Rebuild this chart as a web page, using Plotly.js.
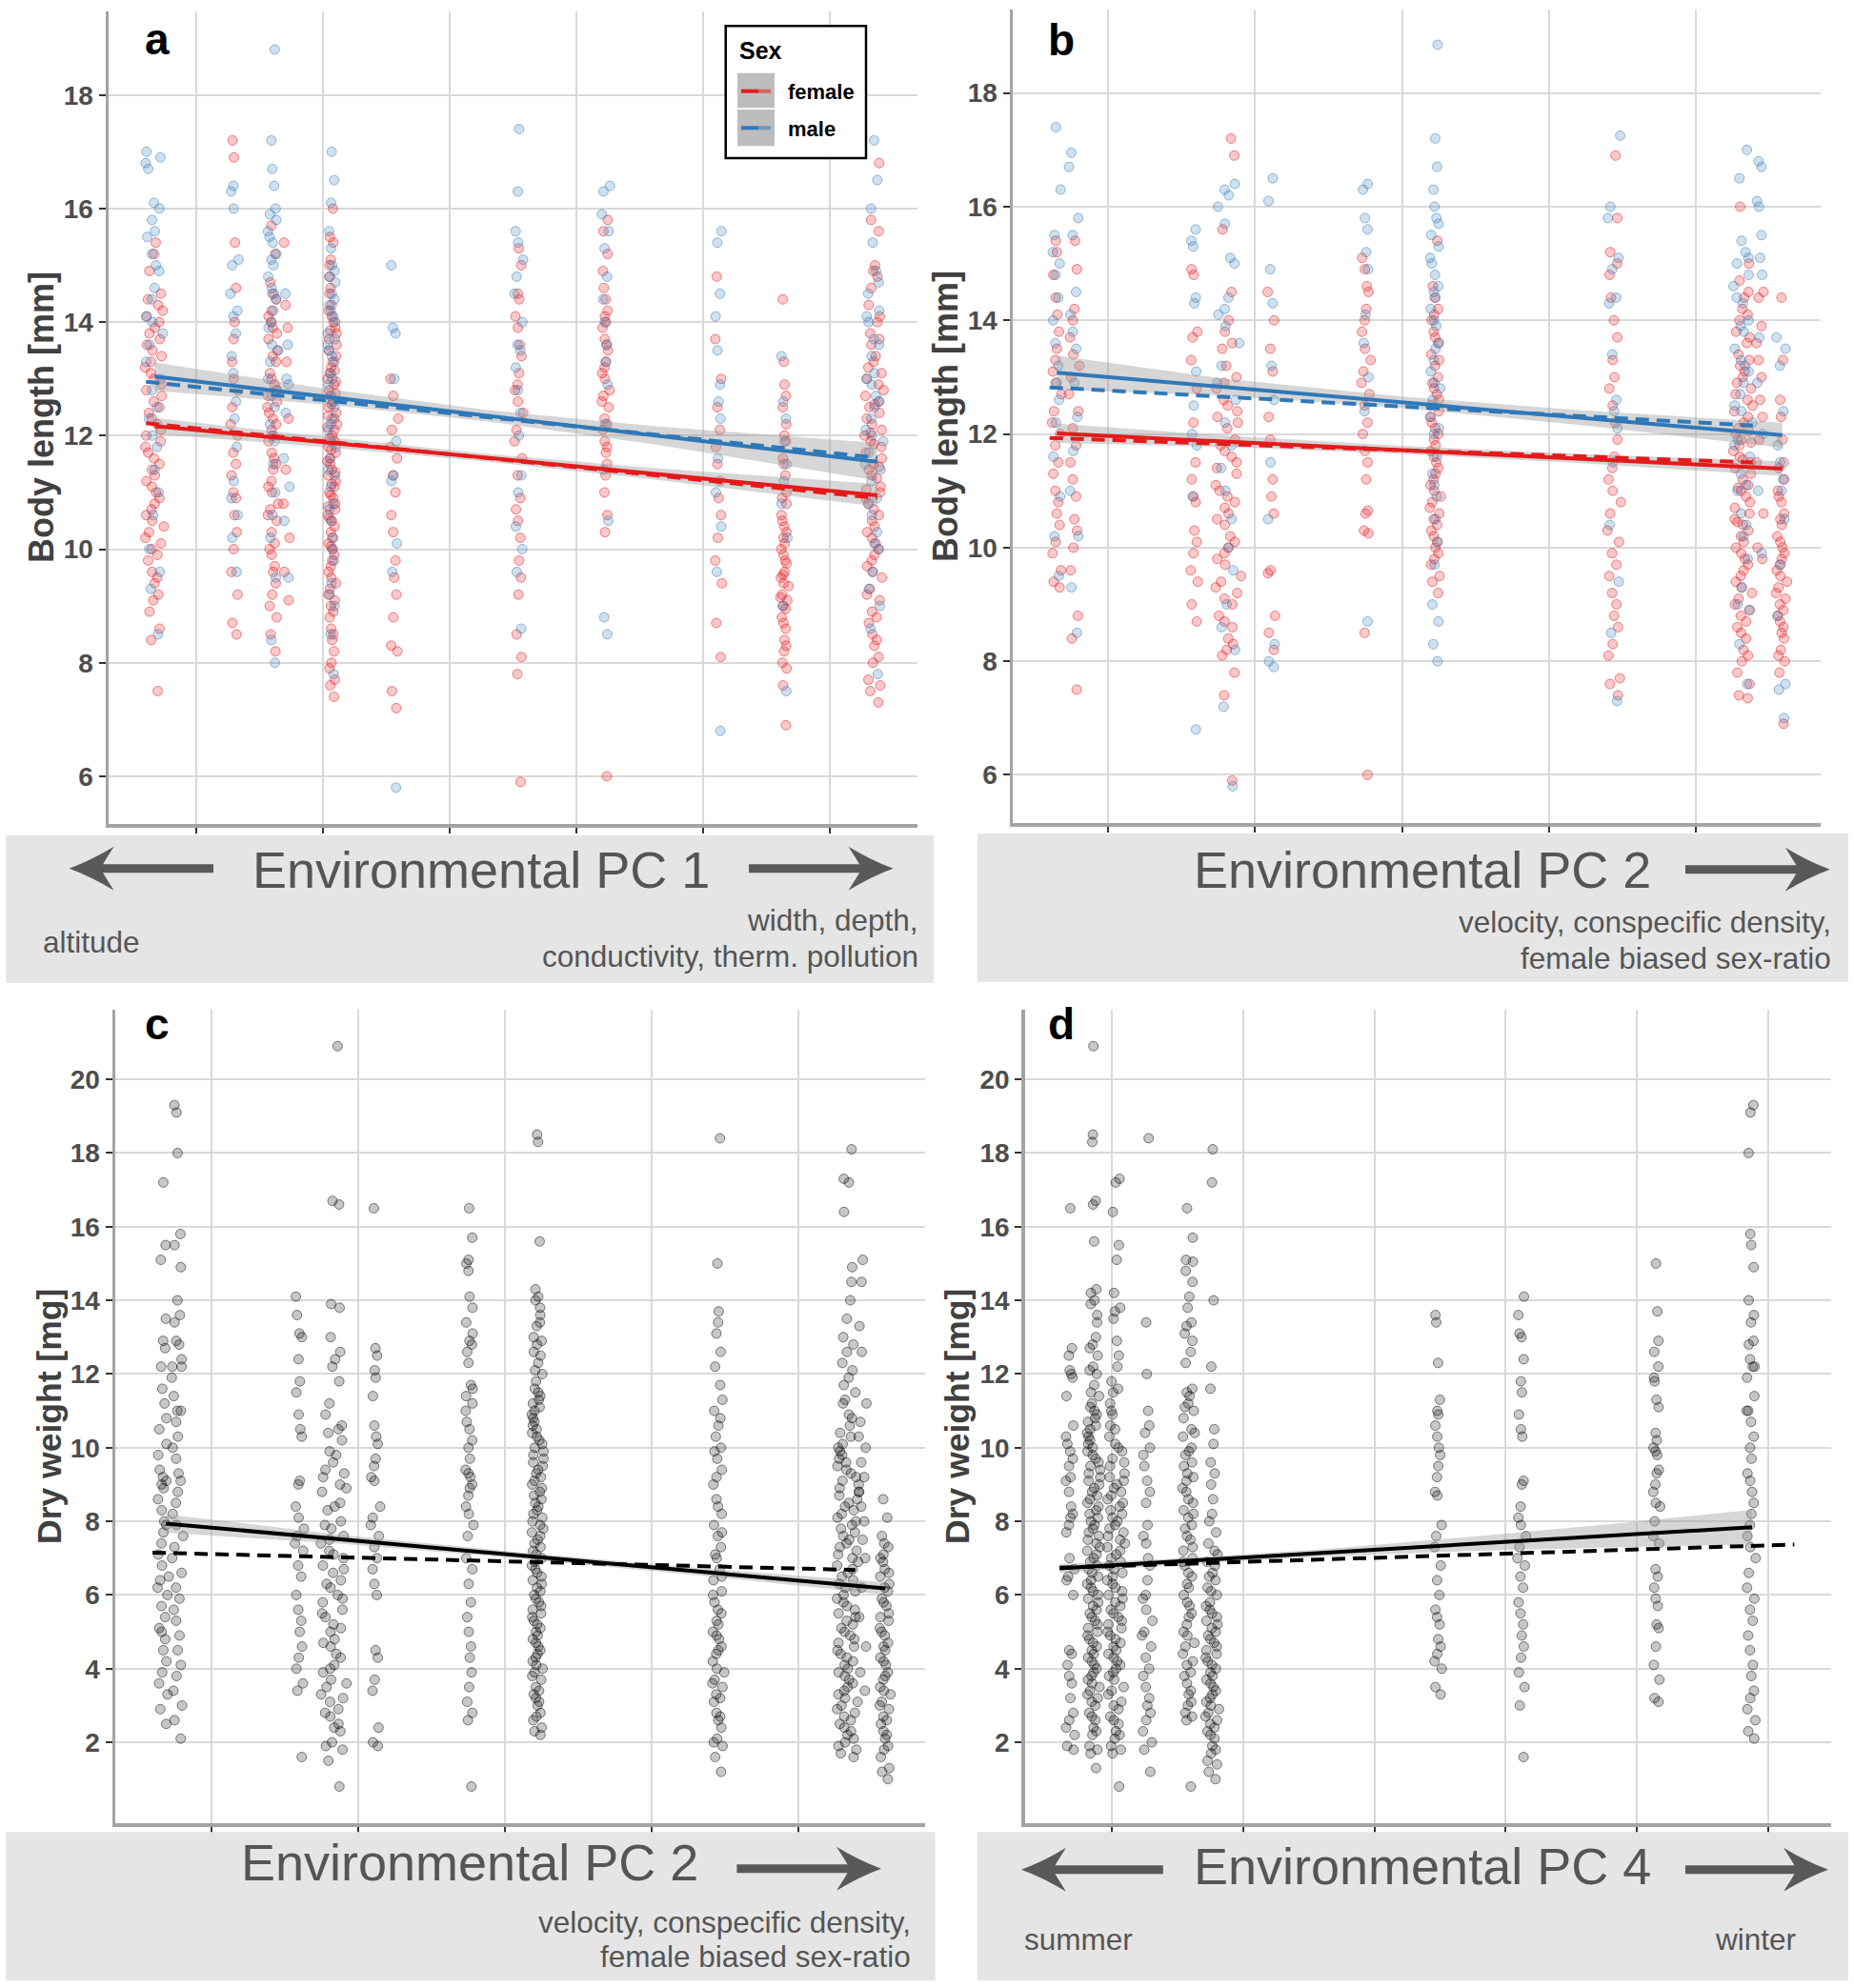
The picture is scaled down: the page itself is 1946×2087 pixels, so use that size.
<!DOCTYPE html>
<html><head><meta charset="utf-8">
<script src="https://cdn.plot.ly/plotly-3.0.1.min.js"></script>
<style>html,body{margin:0;padding:0;background:#fff;}#chart{width:1946px;height:2087px;}</style>
</head><body><div id="chart"></div>
<script>
// ===================== DATA =====================
// ---- Panel a: Body length [mm] vs Environmental PC 1 (sites along PC1) ----
const aSites = [-2.33, -1.70, -1.395, -1.29, -0.93, -0.44, 0.545, 1.23, 2.12, 2.64, 3.35];
const aFemale = [
 [7.5,8.4,8.6,9.2,9.4,9.6,9.8,9.9,10.0,10.2,10.3,10.5,10.6,10.7,10.9,11.0,11.2,11.3,11.5,11.6,11.8,11.9,12.0,12.1,12.2,12.3,12.5,12.6,12.8,12.9,13.0,13.1,13.2,13.3,13.4,13.5,13.7,13.9,14.1,14.2,14.3,14.5,14.9,15.2,15.4,8.9,9.1,9.5,10.1,10.4,10.8,11.1,11.4,11.7,12.4,12.7,13.6,13.8,14.0,14.4],
 [8.5,8.7,9.2,9.6,10.0,10.3,10.6,10.9,11.0,11.3,11.5,11.7,12.0,12.2,12.5,12.8,13.0,13.3,13.7,14.0,14.6,15.4,16.9,17.2],
 [8.2,8.5,8.8,9.0,9.4,9.7,9.9,10.1,10.3,10.5,10.7,10.8,11.0,11.2,11.4,11.5,11.7,11.9,12.0,12.2,12.3,12.4,12.6,12.8,12.9,13.1,13.3,13.5,13.7,13.9,14.0,14.2,14.4,14.7,15.2,15.7,9.2,9.6,10.0,10.6,11.1,11.6,12.1,12.5,12.7,13.0,13.4,13.8,14.1,14.5],
 [9.1,9.6,10.2,10.8,11.4,12.3,13.3,13.9,14.3,15.4],
 [7.4,7.6,7.9,8.2,8.4,8.6,8.8,9.0,9.2,9.3,9.5,9.6,9.8,9.9,10.0,10.1,10.2,10.4,10.5,10.6,10.7,10.8,10.9,11.0,11.1,11.2,11.3,11.4,11.5,11.6,11.7,11.8,11.9,12.0,12.1,12.2,12.3,12.4,12.5,12.6,12.7,12.8,12.9,13.0,13.1,13.2,13.4,13.5,13.7,13.8,13.9,14.0,14.1,14.3,14.5,14.8,15.1,15.4,16.0,7.7,8.0,8.5,8.9,9.1,9.4,9.7,10.05,10.3,10.55,10.75,10.95,11.15,11.35,11.55,11.75,11.95,12.15,12.35,12.55,12.75,12.95,13.15,13.3,13.6,13.85,14.2,14.6,15.0,15.5],
 [7.2,7.5,8.2,8.3,8.8,9.2,9.5,9.8,10.3,10.6,11.0,11.3,11.6,11.8,12.1,12.3,12.7,13.0],
 [5.9,7.8,8.1,8.5,9.2,9.5,9.8,10.2,10.5,10.7,10.9,11.3,11.6,11.9,12.1,12.4,12.6,12.8,12.9,13.1,13.4,13.6,13.9,14.1,14.4,14.5,15.0,15.3],
 [6.0,10.3,10.6,11.0,11.3,11.5,11.7,11.9,12.1,12.3,12.5,12.7,12.8,13.0,13.2,13.3,13.5,13.7,13.9,14.0,14.2,14.4,14.6,14.9,15.2,15.6,15.8,11.8,12.2,12.6,13.1,13.6,14.1],
 [8.1,8.7,9.4,9.8,10.2,10.6,10.9,11.2,11.5,11.8,12.1,12.5,13.0,13.7,14.8],
 [6.9,7.6,7.9,8.2,8.4,8.6,8.8,9.0,9.1,9.2,9.4,9.5,9.6,9.8,9.9,10.0,10.2,10.4,10.6,10.8,11.0,11.3,11.6,11.9,12.2,12.5,12.9,13.3,14.4,8.0,8.3,8.7,8.95,9.15,9.35,9.55,9.75,10.1,10.3,10.5,10.9,11.5,12.0,12.7],
 [7.3,7.5,7.7,8.0,8.3,8.5,8.7,8.9,9.1,9.3,9.5,9.7,9.8,10.0,10.1,10.3,10.4,10.6,10.7,10.9,11.0,11.1,11.3,11.4,11.5,11.6,11.8,11.9,12.0,12.1,12.2,12.4,12.5,12.6,12.8,12.9,13.1,13.2,13.4,13.6,13.8,14.0,14.3,14.6,14.9,15.0,15.6,15.8,16.8,7.6,8.1,8.4,8.8,9.2,9.6,9.9,10.2,10.5,10.8,11.05,11.25,11.45,11.7,11.85,12.05,12.3,12.55,12.7,13.0,13.3,13.7,14.1,14.8]
];
const aMale = [
 [8.5,9.3,9.6,10.0,10.6,11.0,11.4,11.8,12.0,12.3,12.5,12.8,13.0,13.3,13.6,13.8,14.0,14.1,14.4,14.6,14.9,15.0,15.2,15.5,15.6,15.8,16.0,16.1,16.7,16.8,16.9,17.0],
 [9.6,10.2,10.6,10.9,11.2,11.8,12.3,12.6,13.1,13.4,13.8,14.1,14.2,14.5,15.0,15.1,16.0,16.3,16.4],
 [8.0,8.4,9.5,10.2,10.6,11.0,11.5,11.9,12.2,12.5,12.8,13.0,13.3,13.6,13.9,14.2,14.4,14.6,14.8,15.0,15.2,15.4,15.6,15.8,15.9,16.0,16.4,16.7,17.2,18.8,12.0,12.7,13.5,14.0,14.5,15.1,15.5],
 [9.5,10.5,11.1,11.6,12.4,12.9,13.0,13.6,14.5],
 [7.8,8.5,9.0,9.4,9.8,10.2,10.5,10.8,11.1,11.4,11.6,11.9,12.1,12.3,12.5,12.7,12.9,13.1,13.3,13.5,13.6,13.8,14.0,14.2,14.3,14.5,14.7,14.8,15.0,15.3,15.6,16.1,16.5,17.0,9.2,10.0,10.7,11.3,11.8,12.2,12.6,13.0,13.4,13.7,14.1,14.4,14.9],
 [5.8,9.6,10.1,11.2,11.3,11.9,13.0,13.8,13.9,15.0],
 [8.6,9.6,10.0,10.4,11.0,11.3,12.0,12.4,12.8,13.2,13.5,13.6,14.0,14.5,14.8,15.1,15.4,15.6,16.3,17.4],
 [8.5,8.8,10.5,11.4,12.2,12.9,13.3,13.6,14.0,14.4,14.8,15.3,15.6,15.9,16.3,16.4],
 [6.8,9.6,10.4,11.0,11.6,12.3,12.6,12.9,13.5,14.1,14.5,15.4,15.6],
 [7.5,9.0,10.2,10.8,11.2,11.5,11.9,12.3,12.6,13.4],
 [7.8,8.6,9.0,9.6,10.0,10.3,10.6,10.9,11.2,11.5,11.7,11.9,12.1,12.3,12.5,12.7,12.9,13.1,13.4,13.7,14.0,14.2,14.5,14.9,15.4,16.0,16.5,17.2,9.3,10.1,10.8,11.4,12.0,12.6,13.0,13.6,14.1,14.7]
];
const aFitX = [-2.33, 3.37], aFemaleFit = [12.17, 10.95], aMaleFit = [13.04, 11.54];
const aDashX = [-2.40, 3.37], aFemaleDash = [12.22, 10.90], aMaleDash = [12.95, 11.61];
const aBandX = [-2.33, -1.0, 0.3, 1.6, 3.37];
const aFemaleLo = [12.03, 11.80, 11.54, 11.23, 10.75], aFemaleHi = [12.31, 11.98, 11.68, 11.43, 11.15];
const aMaleLo = [12.79, 12.55, 12.25, 11.85, 11.21], aMaleHi = [13.29, 12.83, 12.45, 12.17, 11.87];

// ---- Panel b: Body length [mm] vs Environmental PC 2 ----
const bSites = [-2.35, -2.23, -1.413, -1.18, -0.888, -0.243, 0.229, 1.447, 2.328, 2.44, 2.587];
const bFemale = [
 [9.3,9.4,9.6,9.9,10.1,10.4,10.6,10.8,11.0,11.3,11.5,11.8,12.0,12.2,12.4,12.7,12.9,13.1,13.3,13.5,13.8,14.1,14.4,14.8,15.2,15.4],
 [7.5,8.4,8.8,9.6,10.0,10.3,10.5,10.9,11.2,11.5,11.8,12.1,12.4,12.7,13.0,13.2,13.4,13.7,14.0,14.2,14.9,15.4],
 [8.7,9.0,9.4,9.6,9.9,10.1,10.3,10.8,10.9,11.2,11.5,12.2,12.8,13.3,13.7,13.8,14.8,14.9],
 [5.9,7.4,7.8,8.1,8.2,8.4,8.6,8.8,9.0,9.2,9.3,9.5,9.7,9.9,10.0,10.2,10.4,10.5,10.7,10.8,11.0,11.1,11.3,11.5,11.6,11.8,11.9,12.1,12.3,12.4,12.6,12.8,13.0,13.2,13.5,13.8,14.0,14.5,15.6,16.9,17.2,8.3,8.7,9.1,9.4,9.8,10.1,10.6,10.9,11.4,11.7,12.2,12.5,12.9,13.6],
 [8.2,8.5,8.8,9.55,9.6,10.6,10.9,11.2,11.9,12.3,13.1,13.5,14.0,14.5],
 [6.0,8.5,10.25,10.3,10.6,10.65,11.2,11.5,11.7,12.0,12.2,12.5,12.7,12.9,13.1,13.3,13.5,13.8,14.0,14.2,14.5,14.6,14.9,15.1],
 [9.2,9.4,9.7,9.8,10.0,10.1,10.2,10.4,10.5,10.7,10.8,10.9,11.0,11.2,11.3,11.4,11.5,11.7,11.8,11.9,12.0,12.1,12.3,12.4,12.5,12.7,12.8,13.0,13.2,13.4,13.6,13.8,14.0,14.2,14.4,14.6,15.4,9.5,9.9,10.3,10.6,11.1,11.6,12.2,12.6,12.9,13.3,13.7,14.1],
 [7.4,7.6,7.7,8.1,8.3,8.6,8.8,9.0,9.2,9.5,9.7,9.9,10.1,10.3,10.6,10.8,11.0,11.2,11.4,11.6,11.9,12.2,12.5,12.8,13.0,13.3,13.7,14.0,14.4,14.8,15.0,15.2,15.8,16.9],
 [7.35,7.4,7.8,8.0,8.2,8.4,8.5,8.7,8.9,9.0,9.2,9.3,9.5,9.6,9.8,9.9,10.0,10.1,10.3,10.4,10.5,10.6,10.7,10.9,11.0,11.1,11.2,11.3,11.5,11.6,11.7,11.8,11.9,12.0,12.1,12.2,12.3,12.5,12.6,12.8,12.9,13.1,13.2,13.4,13.6,13.8,14.0,14.2,14.4,14.7,15.0,16.0,7.6,8.1,8.6,8.8,9.1,9.4,9.7,10.2,10.45,10.8,11.05,11.4,11.55,11.85,12.05,12.4,12.7,13.0,13.3,13.7,14.1,14.5],
 [9.8,10.0,10.6,11.5,11.9,12.3,12.6,13.0,13.3,13.6,13.9,14.4,14.5],
 [6.9,7.8,8.0,8.2,8.4,8.5,8.7,8.8,9.0,9.1,9.2,9.4,9.5,9.6,9.8,9.9,10.0,10.2,10.4,10.6,10.8,11.0,11.2,11.5,11.9,12.3,12.6,13.3,14.4,8.1,8.6,8.9,9.3,9.7,10.1,10.5,10.9,11.4]
];
const bMale = [
 [9.5,10.2,10.9,11.6,12.2,12.6,12.9,13.2,13.6,14.0,14.4,14.8,15.0,15.2,15.5,16.3,17.4],
 [8.5,9.3,10.2,11.0,11.7,12.3,12.9,13.5,13.8,14.1,14.5,15.5,15.8,16.7,16.95],
 [6.8,10.9,11.8,12.0,12.5,13.1,14.3,14.4,15.3,15.4,15.6],
 [5.8,7.2,8.2,8.6,9.0,9.6,10.0,10.5,11.0,11.4,11.8,12.2,12.6,12.9,13.2,13.6,13.9,14.1,14.2,14.4,15.0,15.1,15.7,16.0,16.2,16.3,16.4],
 [7.9,8.0,8.3,10.5,11.5,12.6,13.2,14.3,14.9,16.1,16.5],
 [8.7,12.4,13.0,13.6,14.1,14.9,15.2,15.6,15.8,16.3,16.4],
 [8.0,8.3,8.7,9.0,9.7,10.1,10.5,10.9,11.3,11.6,12.0,12.3,12.6,12.9,13.1,13.3,13.6,13.9,14.2,14.4,14.6,14.8,15.0,15.3,15.5,15.8,16.0,16.3,16.7,17.2,18.85,11.1,12.1,12.8,13.5,14.0,14.5,15.1,15.7],
 [7.3,8.5,9.4,10.4,11.5,12.1,12.4,12.6,13.4,14.3,14.4,14.9,15.1,15.8,16.0,17.25],
 [7.6,8.3,8.9,9.3,9.8,10.2,10.6,11.0,11.3,11.6,11.9,12.2,12.4,12.7,12.9,13.1,13.3,13.5,13.8,14.0,14.3,14.6,14.8,15.0,15.2,15.4,16.5,17.0,9.0,10.4,11.1,11.8,12.5,13.2,13.9,14.4,15.1],
 [9.9,11.0,12.0,12.9,13.7,14.8,15.1,15.5,16.0,16.1,16.7,16.8],
 [7.0,7.5,7.6,8.8,9.7,10.5,11.0,11.2,11.5,11.8,12.4,13.2,13.5,13.7]
];
const bFitX = [-2.35, 2.59], bFemaleFit = [12.01, 11.39], bMaleFit = [13.08, 11.98];
const bDashX = [-2.40, 2.39], bFemaleDash = [11.93, 11.50], bMaleDash = [12.82, 12.15];
const bBandX = [-2.35, -1.2, 0.0, 1.2, 2.59];
const bFemaleLo = [11.84, 11.77, 11.65, 11.49, 11.26], bFemaleHi = [12.18, 11.97, 11.79, 11.65, 11.52];
const bMaleLo = [12.78, 12.67, 12.46, 12.16, 11.76], bMaleHi = [13.38, 12.97, 12.66, 12.42, 12.20];

// ---- Panel c: Dry weight [mg] vs Environmental PC 2 ----
const cSites = [-2.325, -2.227, -1.396, -1.159, -0.879, -0.237, 0.225, 1.457, 2.339, 2.441, 2.594];
const cWeight = [
 [2.5,2.9,3.3,3.6,3.9,4.2,4.5,4.8,5.1,5.4,5.7,6.0,6.2,6.5,6.8,7.1,7.4,7.7,8.0,8.3,8.6,8.9,9.1,9.4,9.8,10.1,10.5,10.8,11.2,11.6,12.2,12.7,12.9,13.5,15.1,15.5,17.2,5.0,6.4,7.9,9.0,9.2],
 [2.1,2.6,3.0,3.4,3.8,4.1,4.5,4.9,5.3,5.6,5.9,6.2,6.6,7.0,7.3,7.6,7.9,8.2,8.5,8.8,9.1,9.3,9.7,10.0,10.3,10.7,11.0,11.4,11.9,12.2,12.4,12.8,12.9,13.4,13.6,14.0,14.9,15.5,15.8,18.0,19.1,19.3,11.0,12.2],
 [1.6,3.4,3.6,4.0,4.3,4.6,5.0,5.3,5.6,6.0,6.5,6.8,7.2,7.4,7.6,7.8,8.1,8.4,9.0,9.1,10.3,10.5,10.9,11.5,11.8,12.4,13.0,13.1,13.6,14.1],
 [0.8,1.5,1.8,2.0,2.3,2.5,2.7,2.9,3.1,3.3,3.5,3.7,3.9,4.1,4.3,4.6,4.8,5.0,5.2,5.4,5.6,5.8,6.0,6.2,6.4,6.6,6.8,7.0,7.2,7.4,7.6,7.8,8.0,8.3,8.5,8.8,9.0,9.2,9.4,9.6,9.9,10.2,10.4,10.6,10.9,11.2,11.8,12.2,12.4,12.6,13.0,13.8,13.9,16.6,16.7,20.9,1.9,2.4,2.8,3.2,3.6,4.0,4.4,4.7,5.1,5.5,5.9,6.3,6.7,7.1,7.5,7.9,8.4,8.9,9.3,9.8,10.5],
 [1.9,2.0,2.4,3.4,3.7,4.3,4.5,6.0,6.3,6.7,7.0,7.3,7.6,7.9,8.1,8.4,9.1,9.2,9.5,9.7,10.1,10.3,10.6,11.4,11.9,12.1,12.5,12.7,16.5],
 [0.8,2.6,2.8,3.1,3.5,3.9,4.3,4.6,5.0,5.4,5.8,6.3,6.7,7.0,7.6,7.9,8.2,8.4,8.7,9.0,9.2,9.4,9.7,10.0,10.2,10.5,10.7,11.2,11.4,11.6,11.7,12.3,12.6,12.8,12.9,13.1,13.4,13.8,14.1,14.8,15.0,15.1,15.7,16.5,8.9,9.3,11.0],
 [2.2,2.4,2.6,2.8,3.0,3.2,3.3,3.5,3.7,3.9,4.0,4.2,4.4,4.6,4.8,4.9,5.1,5.3,5.5,5.7,5.8,6.0,6.2,6.4,6.6,6.8,7.0,7.1,7.3,7.5,7.7,7.9,8.0,8.2,8.4,8.6,8.8,9.0,9.1,9.3,9.5,9.7,9.9,10.0,10.2,10.4,10.6,10.8,11.0,11.1,11.3,11.5,11.8,12.0,12.3,12.6,12.8,13.0,13.4,13.6,14.0,14.3,15.6,18.3,18.5,2.3,2.7,3.1,3.4,3.8,4.1,4.3,4.5,4.7,5.0,5.2,5.4,5.6,5.9,6.1,6.3,6.5,6.7,6.9,7.2,7.4,7.6,7.8,8.1,8.3,8.5,8.7,8.9,9.2,9.4,9.6,9.8,10.1,10.3,10.5,10.7,10.9,11.2,11.4,11.6,12.1,12.5,12.9,13.3,13.8,14.1],
 [1.2,1.6,1.9,2.1,2.4,2.6,2.8,3.1,3.3,3.5,3.7,3.9,4.2,4.4,4.6,4.8,5.0,5.3,5.5,5.8,6.1,6.4,6.7,7.0,7.3,7.6,7.9,8.2,8.6,9.0,9.4,9.7,10.0,10.3,10.6,11.0,11.3,11.7,12.2,12.6,13.1,13.4,13.7,15.0,18.4,2.0,2.7,3.2,3.6,4.0,4.5,4.9,5.2,5.6,6.0,6.5,7.1,7.7,8.4,9.2,9.9,10.8],
 [1.6,1.8,2.0,2.2,2.4,2.5,2.7,2.9,3.0,3.2,3.3,3.5,3.6,3.8,3.9,4.1,4.2,4.4,4.5,4.7,4.8,5.0,5.1,5.3,5.4,5.6,5.7,5.9,6.0,6.2,6.3,6.5,6.6,6.8,6.9,7.1,7.2,7.4,7.5,7.7,7.8,8.0,8.1,8.3,8.5,8.7,8.9,9.1,9.3,9.5,9.7,9.9,10.1,10.3,10.6,10.9,11.2,11.5,11.9,12.3,12.6,13.0,13.5,14.0,14.5,14.9,16.4,17.2,17.3,18.1,1.7,1.9,2.1,2.3,2.6,2.8,3.1,3.4,3.7,4.0,4.3,4.6,4.9,5.2,5.5,5.8,6.1,6.4,6.7,7.0,7.3,7.6,7.9,8.2,8.4,8.6,8.8,9.0,9.2,9.4,9.6,9.8,10.0,10.4,10.8,11.3,11.7,12.1,12.8],
 [3.4,3.9,4.6,5.4,6.2,7.0,7.5,8.0,8.4,8.8,9.2,9.6,10.0,10.3,10.7,11.2,12.6,13.3,14.5,15.1],
 [1.0,1.2,1.6,1.9,2.1,2.3,2.5,2.7,2.9,3.1,3.3,3.5,3.7,3.9,4.1,4.3,4.5,4.7,4.9,5.1,5.3,5.5,5.7,5.9,6.1,6.3,6.5,6.7,6.9,7.1,7.4,7.6,8.1,8.6,1.3,1.8,2.2,2.6,3.0,3.4,3.8,4.2,4.6,5.0,5.4,5.8,6.2,6.6,7.0,7.3]
];
const cFitX = [-2.31, 2.594], cFit = [7.94, 6.18];
const cDashX = [-2.40, 2.39], cDash = [7.15, 6.68];
const cBandX = [-2.31, -1.1, 0.1, 1.3, 2.594];
const cLo = [7.69, 7.39, 6.99, 6.54, 6.01], cHi = [8.19, 7.63, 7.16, 6.74, 6.35];

// ---- Panel d: Dry weight [mg] vs Environmental PC 4 ----
const dSites = [-2.316, -2.14, -1.968, -1.729, -1.414, -1.234, 0.487, 1.124, 2.152, 2.874];
const dWeight = [
 [1.8,1.9,2.2,2.4,2.6,2.8,3.2,3.6,3.8,4.1,4.4,4.5,6.0,6.4,6.5,6.7,7.0,7.7,7.9,8.1,8.2,8.4,8.8,9.1,9.2,9.5,9.7,9.9,10.1,10.3,10.6,11.4,11.9,12.0,12.1,12.5,12.7,16.5],
 [1.3,1.7,1.9,2.2,2.4,2.6,2.8,3.0,3.1,3.3,3.4,3.6,3.8,3.9,4.0,4.2,4.4,4.5,4.7,4.8,5.0,5.1,5.3,5.4,5.6,5.7,5.9,6.0,6.2,6.3,6.5,6.6,6.8,6.9,7.1,7.2,7.4,7.5,7.7,7.8,8.0,8.1,8.3,8.4,8.6,8.7,8.9,9.0,9.2,9.3,9.5,9.6,9.8,10.0,10.2,10.4,10.6,10.8,11.0,11.2,11.4,11.7,12.0,12.2,12.5,12.8,13.0,13.4,13.6,13.9,14.0,14.2,14.3,15.6,16.6,16.7,18.3,18.5,20.9,1.8,2.3,2.7,3.2,3.5,3.7,4.1,4.3,4.6,4.9,5.2,5.5,5.8,6.1,6.4,6.7,7.0,7.3,7.6,7.9,8.2,8.5,8.8,9.1,9.4,9.7,9.9,10.1,10.3,10.5,10.7,10.9,11.1,11.5,12.1,12.7],
 [0.8,1.7,1.9,2.1,2.3,2.5,2.7,2.9,3.1,3.3,3.5,3.7,3.9,4.1,4.2,4.4,4.6,4.8,5.0,5.1,5.3,5.5,5.7,5.9,6.0,6.2,6.4,6.6,6.8,7.0,7.1,7.3,7.5,7.7,7.9,8.1,8.3,8.5,8.7,8.9,9.1,9.3,9.5,9.7,9.9,10.1,10.3,10.6,10.9,11.2,11.5,11.8,12.2,12.5,12.9,13.5,13.7,13.8,14.2,15.1,15.5,16.4,17.2,17.3,1.8,2.2,2.6,3.0,3.4,3.8,4.0,4.3,4.5,4.7,4.9,5.2,5.4,5.6,5.8,6.1,6.3,6.5,6.7,6.9,7.2,7.4,7.6,7.8,8.0,8.2,8.4,8.6,8.8,9.0,9.2,9.6,10.0,10.5,11.0,11.6],
 [1.2,1.8,2.0,2.3,2.6,2.8,3.0,3.2,3.5,3.8,4.0,4.3,4.6,4.9,5.0,5.3,5.6,5.9,6.0,6.4,6.8,7.0,7.4,7.6,7.9,8.5,8.8,9.1,9.5,9.8,10.0,10.4,10.6,11.0,12.0,13.4,18.4],
 [0.8,2.6,2.8,3.1,3.4,3.6,3.9,4.1,4.4,4.7,4.9,5.2,5.5,5.7,6.0,6.3,6.5,6.8,7.0,7.3,7.6,7.8,8.1,8.3,8.6,8.8,9.1,9.3,9.5,9.8,10.0,10.3,10.5,10.8,11.0,11.2,11.4,11.6,12.3,12.6,12.9,13.1,13.3,13.4,13.8,14.1,14.5,14.8,15.05,15.1,15.7,16.5,2.7,3.0,3.3,3.8,4.2,4.6,5.0,5.4,5.8,6.2,6.6,6.9,7.2,7.5,7.9,8.2,8.5,8.9,9.2,9.6,9.9,10.4,11.1,11.5],
 [1.0,1.2,1.5,1.7,1.9,2.1,2.3,2.5,2.6,2.8,3.0,3.1,3.3,3.5,3.6,3.8,4.0,4.1,4.3,4.5,4.6,4.8,5.0,5.2,5.4,5.6,5.8,6.0,6.2,6.4,6.6,6.9,7.1,7.4,7.7,8.0,8.2,8.6,9.0,9.3,9.6,10.1,10.5,11.6,12.2,14.0,17.2,18.1,1.4,1.8,2.2,2.4,2.7,2.9,3.2,3.4,3.7,3.9,4.2,4.4,4.7,4.9,5.1,5.3,5.5,5.7,6.1,6.5,6.8,7.2],
 [3.3,3.5,4.0,4.2,4.4,4.6,4.8,5.2,5.4,5.6,6.0,6.4,6.8,7.3,7.6,7.9,8.7,8.8,9.2,9.5,9.8,10.0,10.3,10.6,10.9,11.0,11.3,12.3,13.4,13.6],
 [1.6,3.0,3.5,3.9,4.3,4.6,4.9,5.2,5.5,5.8,6.2,6.5,6.8,7.0,7.3,7.6,7.9,8.1,8.4,9.0,9.1,10.3,10.5,10.9,11.5,11.8,12.4,13.0,13.1,13.6,14.1],
 [3.1,3.2,3.7,4.1,4.6,5.1,5.2,5.7,5.9,6.2,6.5,6.7,7.4,7.6,8.0,8.4,8.5,8.8,9.0,9.3,9.4,9.8,9.9,10.0,10.2,10.4,11.1,11.3,11.8,11.9,12.2,12.6,12.9,13.7,15.0],
 [2.1,2.3,2.6,2.9,3.2,3.4,3.8,4.1,4.5,4.9,5.3,5.6,5.9,6.2,6.6,7.0,7.3,7.6,7.9,8.2,8.5,8.8,9.1,9.3,9.7,10.0,10.3,10.7,11.0,11.4,11.9,12.2,12.4,12.8,12.9,13.4,13.6,14.0,14.9,15.5,15.8,18.0,19.1,19.3,11.0,12.2]
];
const dFitX = [-2.40, 2.878], dFit = [6.72, 7.84];
const dDashX = [-2.40, 3.20], dDash = [6.74, 7.37];
const dBandX = [-2.40, -1.4, -0.4, 0.8, 1.9, 2.878];
const dLo = [6.60, 6.85, 7.04, 7.20, 7.30, 7.37], dHi = [6.84, 7.01, 7.24, 7.60, 7.96, 8.31];

// tick labels
const lengthTicks = [6, 8, 10, 12, 14, 16, 18];
const weightTicks = [2, 4, 6, 8, 10, 12, 14, 16, 18, 20];

// ===================== STYLE (positions / sizes) =====================
const aWidths = [0.16,0.07,0.10,0.06,0.08,0.07,0.08,0.07,0.07,0.07,0.17];
const bWidths = [0.07,0.08,0.06,0.19,0.06,0.07,0.08,0.10,0.15,0.07,0.08];
const cWidths = [0.09,0.09,0.07,0.19,0.07,0.07,0.08,0.09,0.15,0.07,0.08];
const dWidths = [0.09,0.10,0.14,0.09,0.10,0.11,0.07,0.07,0.07,0.08];

const W = 1946, H = 2087;
const FONT = 'Liberation Sans, Arial, Helvetica, sans-serif';
const GRID = '#d9d9d9', AXIS = '#a3a3a3', BAND = 'rgba(153,153,153,0.4)', ARROW = '#595959', TXT = '#555555';
const RED = '#E41A1C', BLUE = '#2F78B8';
const mkF = {size: 10, color: 'rgba(228,26,28,0.24)', line: {color: 'rgba(228,26,28,0.5)', width: 1}};
const mkM = {size: 10, color: 'rgba(55,126,184,0.24)', line: {color: 'rgba(55,126,184,0.5)', width: 1}};
const mkK = {size: 10, color: 'rgba(0,0,0,0.22)', line: {color: 'rgba(0,0,0,0.48)', width: 1}};
const px = x => x / W, py = y => 1 - y / H;

function strips(sites, vals, widths, xa, ya, mk) {
  return vals.map((v, i) => ({
    type: 'box', orientation: 'v', x: v.map(() => sites[i]), y: v, xaxis: xa, yaxis: ya,
    width: widths[i], boxpoints: 'all', jitter: 1, pointpos: 0,
    fillcolor: 'rgba(0,0,0,0)', line: {width: 0, color: 'rgba(0,0,0,0)'}, whiskerwidth: 0,
    marker: mk, hoverinfo: 'skip', showlegend: false
  }));
}
function lineTr(x, y, xa, ya, color, dashed) {
  return {type: 'scatter', mode: 'lines', x, y, xaxis: xa, yaxis: ya,
    line: {color, width: 4, dash: dashed ? '14px,8px' : 'solid'}, hoverinfo: 'skip', showlegend: false};
}
function bandTr(x, lo, hi, xa, ya) {
  return {type: 'scatter', mode: 'lines', x: x.concat(x.slice().reverse()), y: hi.concat(lo.slice().reverse()),
    fill: 'toself', fillcolor: BAND, line: {width: 0}, xaxis: xa, yaxis: ya, hoverinfo: 'skip', showlegend: false};
}

const traces = [].concat(
  strips(aSites, aFemale, aWidths, 'x', 'y', mkF), strips(aSites, aMale, aWidths, 'x', 'y', mkM),
  [bandTr(aBandX, aFemaleLo, aFemaleHi, 'x', 'y'), bandTr(aBandX, aMaleLo, aMaleHi, 'x', 'y'),
   lineTr(aDashX, aFemaleDash, 'x', 'y', RED, true), lineTr(aDashX, aMaleDash, 'x', 'y', BLUE, true),
   lineTr(aFitX, aFemaleFit, 'x', 'y', RED, false), lineTr(aFitX, aMaleFit, 'x', 'y', BLUE, false)],
  strips(bSites, bFemale, bWidths, 'x2', 'y2', mkF), strips(bSites, bMale, bWidths, 'x2', 'y2', mkM),
  [bandTr(bBandX, bFemaleLo, bFemaleHi, 'x2', 'y2'), bandTr(bBandX, bMaleLo, bMaleHi, 'x2', 'y2'),
   lineTr(bDashX, bFemaleDash, 'x2', 'y2', RED, true), lineTr(bDashX, bMaleDash, 'x2', 'y2', BLUE, true),
   lineTr(bFitX, bFemaleFit, 'x2', 'y2', RED, false), lineTr(bFitX, bMaleFit, 'x2', 'y2', BLUE, false)],
  strips(cSites, cWeight, cWidths, 'x3', 'y3', mkK),
  [bandTr(cBandX, cLo, cHi, 'x3', 'y3'), lineTr(cDashX, cDash, 'x3', 'y3', '#000', true), lineTr(cFitX, cFit, 'x3', 'y3', '#000', false)],
  strips(dSites, dWeight, dWidths, 'x4', 'y4', mkK),
  [bandTr(dBandX, dLo, dHi, 'x4', 'y4'), lineTr(dDashX, dDash, 'x4', 'y4', '#000', true), lineTr(dFitX, dFit, 'x4', 'y4', '#000', false)]
);

function xax(x0, x1, range, anchor) {
  return {domain: [px(x0), px(x1)], range, type: 'linear', tick0: 0, dtick: 1, anchor,
    showgrid: true, gridcolor: GRID, gridwidth: 2, zeroline: false, showline: true, linecolor: AXIS, linewidth: 3.5,
    ticks: 'outside', ticklen: 6, tickwidth: 2, tickcolor: '#333', showticklabels: false, fixedrange: true};
}
function yax(y0, y1, range, anchor, ticks) {
  return {domain: [py(y1), py(y0)], range, type: 'linear', tickmode: 'array', tickvals: ticks, ticktext: ticks.map(String), anchor,
    showgrid: true, gridcolor: GRID, gridwidth: 2, zeroline: false, showline: true, linecolor: AXIS, linewidth: 3.5,
    ticks: 'outside', ticklen: 7, tickwidth: 2, tickcolor: '#333',
    tickfont: {family: FONT, size: 28, color: '#4d4d4d', weight: 'bold'}, fixedrange: true};
}

function txt(text, x, y, size, xanchor, o) {
  o = o || {};
  return {xref: 'paper', yref: 'paper', x: px(x), y: py(y), xanchor, yanchor: 'middle', text, showarrow: false,
    textangle: o.angle || 0, font: {family: FONT, size, color: o.color || TXT}};
}
const annotations = [
  txt('<b>a</b>', 150, 41.3, 46, 'left', {color: '#000'}),
  txt('<b>b</b>', 1098, 42.2, 46, 'left', {color: '#000'}),
  txt('<b>c</b>', 150, 1074.7, 46, 'left', {color: '#000'}),
  txt('<b>d</b>', 1098, 1075, 46, 'left', {color: '#000'}),
  txt('<b>Body length [mm]</b>', 44, 438, 36, 'center', {angle: -90, color: '#404040'}),
  txt('<b>Body length [mm]</b>', 992, 437, 36, 'center', {angle: -90, color: '#404040'}),
  txt('<b>Dry weight [mg]</b>', 52, 1487, 35.5, 'center', {angle: -90, color: '#404040'}),
  txt('<b>Dry weight [mg]</b>', 1005, 1487, 35.5, 'center', {angle: -90, color: '#404040'}),
  txt('Environmental PC 1', 505, 912.5, 54, 'center'),
  txt('altitude', 43, 989.2, 31.5, 'left'),
  txt('width, depth,', 966, 965.9, 31.5, 'right'),
  txt('conductivity, therm. pollution', 966, 1004.2, 31.5, 'right'),
  txt('Environmental PC 2', 1493.4, 912.5, 54, 'center'),
  txt('velocity, conspecific density,', 1923.7, 967.5, 31.5, 'right'),
  txt('female biased sex-ratio', 1923.7, 1005.9, 31.5, 'right'),
  txt('Environmental PC 2', 492.7, 1955.2, 54, 'center'),
  txt('velocity, conspecific density,', 958.3, 2017.5, 31.5, 'right'),
  txt('female biased sex-ratio', 958.3, 2054.2, 31.5, 'right'),
  txt('Environmental PC 4', 1493.4, 1959.2, 54, 'center'),
  txt('summer', 1073, 2035.9, 31.5, 'left'),
  txt('winter', 1886.5, 2035.9, 31.5, 'right'),
  // legend texts
  txt('<b>Sex</b>', 774, 53.3, 25, 'left', {color: '#000'}),
  txt('<b>female</b>', 825, 96.3, 22, 'left', {color: '#000'}),
  txt('<b>male</b>', 825, 135, 22, 'left', {color: '#000'})
];

function rectPx(x0, y0, x1, y1, fill, line) {
  return {type: 'rect', xref: 'paper', yref: 'paper', x0: px(x0), x1: px(x1), y0: py(y1), y1: py(y0),
    fillcolor: fill, line: line || {width: 0}, layer: 'above'};
}
function segPx(x0, y0, x1, y1, color, width) {
  return {type: 'line', xref: 'paper', yref: 'paper', x0: px(x0), x1: px(x1), y0: py(y0), y1: py(y1),
    line: {color, width}, layer: 'above'};
}
function arrow(tailX, tipX, yc) {
  const dir = tipX > tailX ? 1 : -1;
  const shaftEnd = tipX - dir * 32;
  const P = (dx, dy) => px(tipX - dir * dx) + ',' + py(yc + dy);
  const path = 'M ' + P(0, 0) + ' Q ' + P(22, -8) + ' ' + P(47, -23) + ' Q ' + P(36, -6) + ' ' + P(33, 0) +
    ' Q ' + P(36, 6) + ' ' + P(47, 23) + ' Q ' + P(22, 8) + ' ' + P(0, 0) + ' Z';
  return [rectPx(Math.min(tailX, shaftEnd), yc - 4.5, Math.max(tailX, shaftEnd), yc + 4.5, ARROW),
    {type: 'path', xref: 'paper', yref: 'paper', path, fillcolor: ARROW, line: {width: 0}, layer: 'above'}];
}

const shapes = [].concat(
  [rectPx(6, 876.7, 980, 1031.7, '#e5e5e5'), rectPx(1026, 875, 1940, 1030.7, '#e5e5e5'),
   rectPx(6, 1923.3, 981.7, 2079.3, '#e5e5e5'), rectPx(1026, 1923.3, 1940, 2079.3, '#e5e5e5')],
  arrow(224, 72.6, 911.7), arrow(786, 937.5, 911.7),
  arrow(1769, 1920.8, 912.7),
  arrow(773.4, 925, 1961.7),
  arrow(1220.8, 1072, 1962.7), arrow(1769, 1919, 1962.7),
  [rectPx(761.7, 27.3, 909, 166, '#ffffff', {color: '#000', width: 2.5}),
   rectPx(774, 76.7, 813, 113.3, '#bdbdbd'), rectPx(774, 115, 813, 153.3, '#bdbdbd'),
   segPx(778, 95.7, 796, 95.7, RED, 4), segPx(796, 95.7, 809, 95.7, 'rgba(228,26,28,0.55)', 4),
   segPx(778, 134.3, 796, 134.3, BLUE, 4), segPx(796, 134.3, 809, 134.3, 'rgba(47,120,184,0.55)', 4)]
);

const layout = {
  width: W, height: H, margin: {l: 0, r: 0, t: 0, b: 0}, paper_bgcolor: '#fff', plot_bgcolor: '#fff',
  showlegend: false, boxmode: 'overlay', boxgap: 0, boxgroupgap: 0, font: {family: FONT},
  xaxis: xax(114, 963, [-2.695, 3.688], 'y'), yaxis: yax(11.5, 865, [5.16, 19.48], 'x', lengthTicks),
  xaxis2: xax(1063, 1910.6, [-2.651, 2.849], 'y2'), yaxis2: yax(10, 864, [5.153, 19.47], 'x2', lengthTicks),
  xaxis3: xax(121, 971.4, [-2.654, 2.868], 'y3'), yaxis3: yax(1060, 1914, [-0.196, 21.89], 'x3', weightTicks),
  xaxis4: xax(1075.8, 1922, [-2.664, 3.481], 'y4'), yaxis4: yax(1060, 1914, [-0.196, 21.89], 'x4', weightTicks),
  annotations, shapes
};
Plotly.newPlot('chart', traces, layout, {staticPlot: true, displayModeBar: false});
</script>
</body></html>
